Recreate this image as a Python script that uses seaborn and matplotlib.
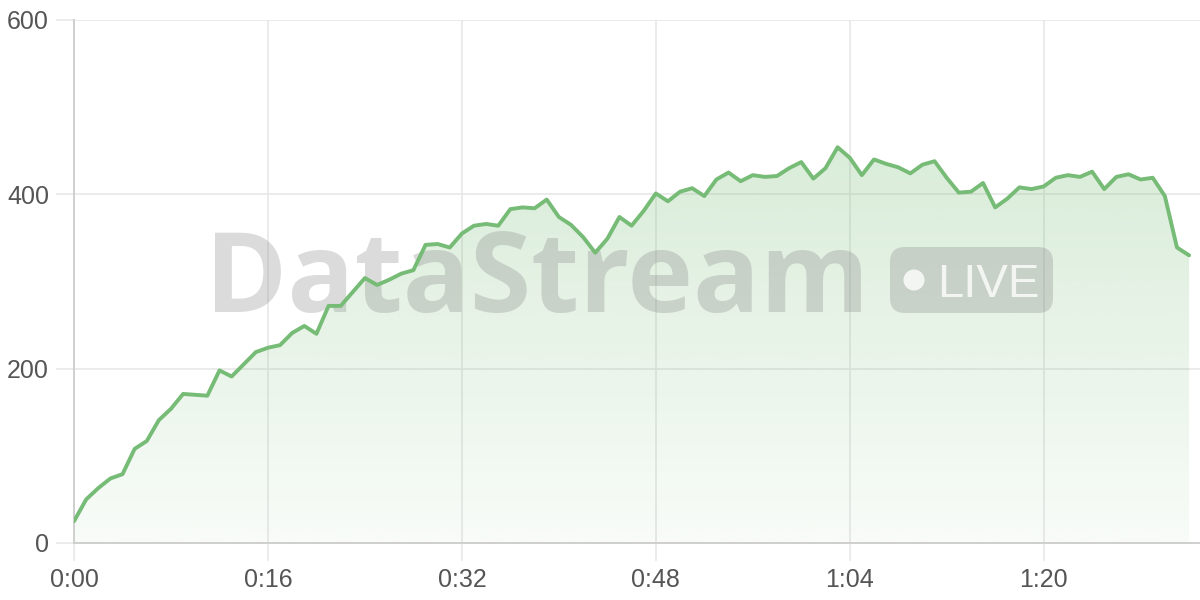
import numpy as np
import matplotlib
matplotlib.use("Agg")
import matplotlib.pyplot as plt
from matplotlib.patches import FancyBboxPatch, Ellipse
from matplotlib.colors import to_rgb
import seaborn as sns
import pandas as pd

# seconds since start, one sample per second
seconds = list(range(93))
viewers = [25, 50, 63, 74, 79, 108, 117, 141, 154, 171,
           170, 169, 198, 191, 205, 219, 224, 227, 241, 249,
           240, 272, 272, 288, 304, 296, 302, 309, 313, 342,
           343, 339, 355, 364, 366, 364, 383, 385, 384, 394,
           374, 365, 351, 333, 349, 374, 364, 381, 401, 392,
           403, 407, 398, 417, 425, 415, 422, 420, 421, 430,
           437, 418, 430, 454, 442, 422, 440, 435, 431, 424,
           434, 438, 419, 402, 403, 413, 385, 395, 408, 406,
           409, 419, 422, 420, 426, 406, 420, 423, 417, 419,
           398, 339, 330]
x_ticks = [0, 16, 32, 48, 64, 80]
x_labels = ["0:00", "0:16", "0:32", "0:48", "1:04", "1:20"]
y_ticks = [0, 200, 400, 600]

df = pd.DataFrame({"t": seconds, "v": viewers})

sns.set_theme(style="white")
plt.rcParams['font.family'] = ['Liberation Sans', 'DejaVu Sans']

line_col = "#76bb76"
grid_col = "#e8e8e8"
axis_col = "#cfcfcf"

fig = plt.figure(figsize=(12, 6), dpi=100)
ax = fig.add_axes([0.0617, 0.095, 0.9383, 0.8717])

xmax = 92.9
ax.set_xlim(0, xmax)
ax.set_ylim(0, 600)

# gradient fill under the line
rgb = to_rgb(line_col)
grad = np.zeros((256, 1, 4))
grad[:, 0, :3] = rgb
grad[:, 0, 3] = np.linspace(0.05, 0.28, 256)
img = ax.imshow(grad, aspect="auto", origin="lower", extent=[0, xmax, 0, 460],
                zorder=1, interpolation="bilinear")
poly = ax.fill_between(df["t"], df["v"], 0, color="none", lw=0)
img.set_clip_path(poly.get_paths()[0], transform=ax.transData)

# watermark
ax.text(0.171, 0.48, "DataStream", transform=fig.transFigure, fontsize=80,
        fontweight="bold", family=["Open Sans", "DejaVu Sans"], ha="left",
        va="baseline", color="#808080", alpha=0.28, zorder=2)
badge = FancyBboxPatch((890 / 1200, 287 / 600), 163 / 1200, 66 / 600,
                       transform=fig.transFigure,
                       boxstyle="round,pad=0,rounding_size=0.0125",
                       mutation_aspect=2, lw=0, facecolor="#808080",
                       alpha=0.28, zorder=2)
ax.add_patch(badge)
ax.add_patch(Ellipse((914 / 1200, 320 / 600), 21 / 1200, 21 / 600,
                     transform=fig.transFigure, facecolor="white",
                     alpha=0.8, lw=0, zorder=3))
ax.text(937 / 1200, 303 / 600, "LIVE", transform=fig.transFigure,
        fontsize=34, color="white", alpha=0.8, ha="left",
        va="baseline", zorder=3)

sns.lineplot(data=df, x="t", y="v", ax=ax, color=line_col, lw=2.8, zorder=4)

ax.set_xticks(x_ticks)
ax.set_xticklabels(x_labels)
ax.set_yticks(y_ticks)
ax.set_xlabel("")
ax.set_ylabel("")
ax.grid(True, color=grid_col, lw=1.2, zorder=0)
ax.set_axisbelow(True)
for s in ["top", "right"]:
    ax.spines[s].set_visible(False)
for s in ["left", "bottom"]:
    ax.spines[s].set_color(axis_col)
    ax.spines[s].set_linewidth(1.4)
ax.tick_params(axis="both", which="both", length=13, width=1.2, color=grid_col,
               labelsize=18, labelcolor="#555555", pad=5, direction="out")
ax.tick_params(axis="x", bottom=True)
ax.tick_params(axis="y", left=True)

fig.savefig("out.png", dpi=100)
